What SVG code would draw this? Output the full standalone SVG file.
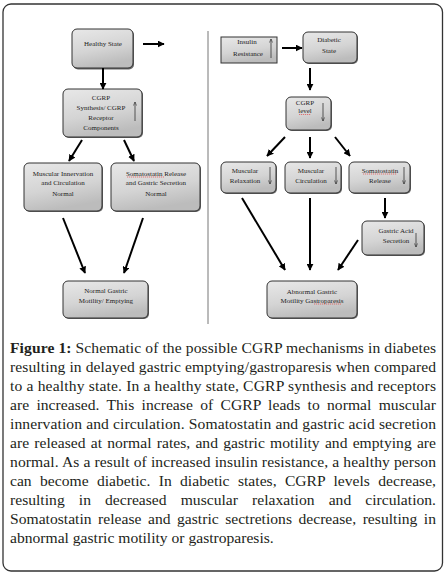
<svg xmlns="http://www.w3.org/2000/svg" width="446" height="574" viewBox="0 0 446 574">
<style>
.box{fill:url(#g);stroke:#333;stroke-width:1}
.sh{fill:#666}
.t{font-family:"Liberation Serif","Times New Roman",serif;font-size:7px;fill:#222;text-anchor:middle}
.cap{font-family:"Liberation Serif","Times New Roman",serif;font-size:15.6px;fill:#231f20}
.ar{stroke:#000;stroke-width:2;fill:none;marker-end:url(#ah)}
.th{stroke:#333;stroke-width:0.8;fill:none;marker-end:url(#sa)}
.sq{stroke:#e03030;stroke-width:0.6;fill:none;stroke-dasharray:1.2 0.8}
</style>
<defs>
<linearGradient id="g" x1="0" y1="0" x2="0.3" y2="1">
<stop offset="0" stop-color="#e8e8e8"/>
<stop offset="0.6" stop-color="#d4d4d4"/>
<stop offset="1" stop-color="#bcbcbc"/>
</linearGradient>
<marker id="ah" viewBox="0 0 10 10" refX="9" refY="5" markerWidth="7" markerHeight="7" markerUnits="userSpaceOnUse" orient="auto">
<path d="M0,0 L10,5 L0,10 z" fill="#000"/>
</marker>
<marker id="sa" viewBox="0 0 10 10" refX="9" refY="5" markerWidth="4" markerHeight="4" markerUnits="userSpaceOnUse" orient="auto">
<path d="M0,1 L9,5 L0,9" fill="none" stroke="#333" stroke-width="1.5"/>
</marker>
</defs>
<rect x="3" y="4" width="439.5" height="567" rx="8" fill="#fff" stroke="#333" stroke-width="1.3"/>
<line x1="208" y1="31" x2="208" y2="324" stroke="#777" stroke-width="1"/>

<g id="healthy">
<rect class="sh" x="73" y="30" width="61" height="39.5" rx="5"/>
<rect class="box" x="72" y="29" width="61" height="39" rx="5"/>
<text class="t" x="103" y="45.5">Healthy State</text>
</g>
<g id="cgrp-synth">
<rect class="sh" x="64" y="90" width="79" height="48" rx="5"/>
<rect class="box" x="63" y="89" width="79" height="48" rx="5"/>
<text class="t" x="101" y="99.5">CGRP</text>
<text class="t" x="101" y="109.5">Synthesis/ CGRP</text>
<text class="t" x="101" y="119.5">Receptor</text>
<text class="t" x="101" y="129.5">Components</text>
<path class="th" d="M135,121 V102"/>
</g>
<g id="musc-innerv">
<rect class="sh" x="25" y="164" width="78" height="48" rx="5"/>
<rect class="box" x="24" y="163" width="78" height="48" rx="5"/>
<text class="t" x="63" y="175.5">Muscular Innervation</text>
<text class="t" x="63" y="185">and Circulation</text>
<text class="t" x="63" y="196">Normal</text>
</g>
<g id="soma-normal">
<rect class="sh" x="112" y="164" width="89" height="48" rx="5"/>
<rect class="box" x="111" y="163" width="89" height="48" rx="5"/>
<text class="t" x="156" y="175.5">Somatostatin Release</text>
<path class="sq" d="M127,177 H164"/>
<text class="t" x="156" y="185">and Gastric Secretion</text>
<text class="t" x="156" y="196">Normal</text>
</g>
<g id="normal-gastric">
<rect class="sh" x="64" y="282" width="85" height="37" rx="5"/>
<rect class="box" x="63" y="281" width="85" height="37" rx="5"/>
<text class="t" x="106" y="293">Normal Gastric</text>
<text class="t" x="106" y="302.5">Motility/ Emptying</text>
</g>

<g id="insulin">
<rect class="box" x="221" y="37" width="56" height="26"/>
<text class="t" x="247" y="44">Insulin</text>
<text class="t" x="248" y="56">Resistance</text>
<path class="th" d="M271,58 V39"/>
</g>
<g id="diabetic">
<rect class="sh" x="304" y="33" width="54" height="31" rx="5"/>
<rect class="box" x="303" y="32" width="54" height="31" rx="5"/>
<text class="t" x="329" y="42">Diabetic</text>
<text class="t" x="329" y="53">State</text>
</g>
<g id="cgrp-level">
<rect class="sh" x="287" y="98" width="45" height="33" rx="5"/>
<rect class="box" x="286" y="97" width="45" height="33" rx="5"/>
<text class="t" x="305" y="104.5">CGRP</text>
<text class="t" x="305" y="113">level</text>
<path class="sq" d="M299,114.5 H311"/>
<path class="th" d="M323,103 V121"/>
</g>
<g id="musc-relax">
<rect class="sh" x="222" y="163" width="55" height="31" rx="5"/>
<rect class="box" x="221" y="162" width="55" height="31" rx="5"/>
<text class="t" x="245" y="172.5">Muscular</text>
<text class="t" x="245" y="182.5">Relaxation</text>
<path class="th" d="M270,167 V184"/>
</g>
<g id="musc-circ">
<rect class="sh" x="286" y="163" width="56" height="31" rx="5"/>
<rect class="box" x="285" y="162" width="56" height="31" rx="5"/>
<text class="t" x="311" y="172.5">Muscular</text>
<text class="t" x="311" y="182.5">Circulation</text>
<path class="th" d="M336,167 V184"/>
</g>
<g id="soma-release">
<rect class="sh" x="350" y="163" width="61" height="31" rx="5"/>
<rect class="box" x="349" y="162" width="61" height="31" rx="5"/>
<text class="t" x="380" y="172.5">Somatostatin</text>
<path class="sq" d="M363,174 H397"/>
<text class="t" x="380" y="182.5">Release</text>
<path class="th" d="M404,167 V184"/>
</g>
<g id="gastric-acid">
<rect class="sh" x="363" y="222" width="62" height="34" rx="5"/>
<rect class="box" x="362" y="221" width="62" height="34" rx="5"/>
<text class="t" x="396" y="232.5">Gastric Acid</text>
<text class="t" x="396" y="242.5">Secretion</text>
<path class="th" d="M416,233 V247"/>
</g>
<g id="abnormal">
<rect class="sh" x="268" y="282" width="90" height="37" rx="5"/>
<rect class="box" x="267" y="281" width="90" height="37" rx="5"/>
<text class="t" x="312" y="294">Abnormal Gastric</text>
<text class="t" x="312" y="302.5">Motility Gastroparesis</text>
<path class="sq" d="M314,304 H341"/>
</g>

<g id="connectors">
<path class="ar" d="M143,44 H164"/>
<path class="ar" d="M103,68 V89"/>
<path class="ar" d="M82,140 L69,161"/>
<path class="ar" d="M124,140 L134,161"/>
<path class="ar" d="M63,218 L85,273"/>
<path class="ar" d="M143,218 L124,273"/>
<path class="ar" d="M282,48 H302"/>
<path class="ar" d="M310,68 V90"/>
<path class="ar" d="M285,137 L267,156"/>
<path class="ar" d="M310,137 V158"/>
<path class="ar" d="M335,137 L350,156"/>
<path class="ar" d="M385,198 V218"/>
<path class="ar" d="M242,198 L285,270"/>
<path class="ar" d="M310,198 V270"/>
<path class="ar" d="M358,240 L338,270"/>
</g>

<g id="caption">
<text class="cap" x="10" y="353" textLength="426" lengthAdjust="spacing"><tspan font-weight="bold">Figure 1:</tspan> Schematic of the possible CGRP mechanisms in diabetes</text>
<text class="cap" x="10" y="372" textLength="426" lengthAdjust="spacing">resulting in delayed gastric emptying/gastroparesis when compared</text>
<text class="cap" x="10" y="391" textLength="426" lengthAdjust="spacing">to a healthy state. In a healthy state, CGRP synthesis and receptors</text>
<text class="cap" x="10" y="410" word-spacing="3.4" textLength="426" lengthAdjust="spacing">are increased. This increase of CGRP leads to normal muscular</text>
<text class="cap" x="10" y="429" textLength="426" lengthAdjust="spacing">innervation and circulation. Somatostatin and gastric acid secretion</text>
<text class="cap" x="10" y="448" word-spacing="1.3" textLength="426" lengthAdjust="spacing">are released at normal rates, and gastric motility and emptying are</text>
<text class="cap" x="10" y="467" textLength="426" lengthAdjust="spacing">normal. As a result of increased insulin resistance, a healthy person</text>
<text class="cap" x="10" y="486" word-spacing="4.4" textLength="426" lengthAdjust="spacing">can become diabetic. In diabetic states, CGRP levels decrease,</text>
<text class="cap" x="10" y="505" word-spacing="10.2" textLength="426" lengthAdjust="spacing">resulting in decreased muscular relaxation and circulation.</text>
<text class="cap" x="10" y="524" word-spacing="2.6" textLength="426" lengthAdjust="spacing">Somatostatin release and gastric sectretions decrease, resulting in</text>
<text class="cap" x="10" y="543">abnormal gastric motility or gastroparesis.</text>
</g>
</svg>
